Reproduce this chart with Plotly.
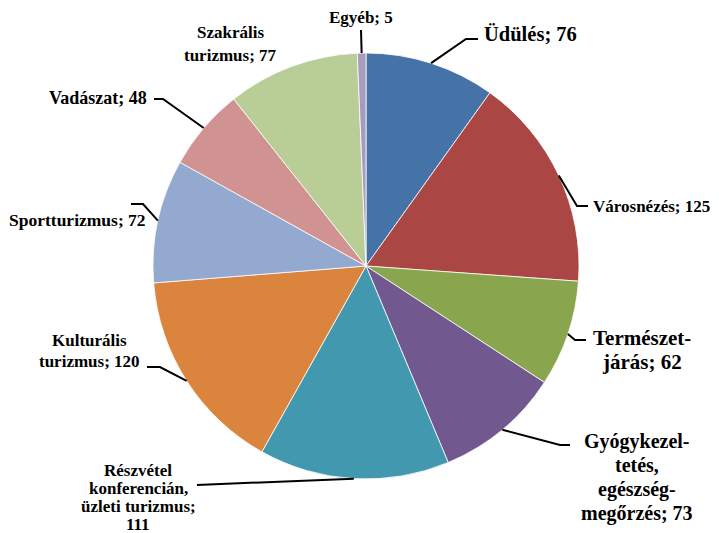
import math
import plotly.graph_objects as go

W, H = 719, 533

labels = ['Üdülés', 'Városnézés', 'Természetjárás', 'Gyógykezeltetés, egészségmegőrzés',
          'Részvétel konferencián, üzleti turizmus', 'Kulturális turizmus', 'Sportturizmus',
          'Vadászat', 'Szakrális turizmus', 'Egyéb']
values = [76, 125, 62, 73, 111, 120, 72, 48, 77, 5]
label_texts = ['Üdülés; 76', 'Városnézés; 125', 'Természet-<br>járás; 62',
               'Gyógykezel-<br>tetés,<br>egészség-<br>megőrzés; 73',
               'Részvétel<br>konferencián,<br>üzleti turizmus;<br>111',
               'Kulturális<br>turizmus; 120', 'Sportturizmus; 72', 'Vadászat; 48',
               'Szakrális<br>turizmus; 77', 'Egyéb; 5']
colors = ['#4572A7', '#AA4643', '#89A54E', '#71588F', '#4198AF',
          '#DB843D', '#93A9CF', '#D19392', '#B9CD96', '#A99BBD']

# label placement in pixels: (x, y of first line, xanchor, font size, line spacing)
label_pos = [(482, 34, 'left', 20.5, 0), (591, 206, 'left', 17, 0), (642, 338, 'center', 21, 24),
             (637, 441, 'center', 20, 24.3), (138, 470, 'center', 17, 18.3),
             (89, 340, 'center', 17, 22), (148, 220, 'right', 17.5, 0), (149, 98, 'right', 18, 0),
             (230, 33, 'center', 17, 22), (361, 18, 'center', 17, 0)]
# leader line bends after the slice edge (pixels)
leader_pts = [[(466, 39), (478, 39)], [(577, 206), (588, 206)], [(575, 340), (586, 340)],
              [(560, 445), (570, 445)], [(197, 485)], [(160, 367), (147, 367)],
              [(143, 204), (131, 204)], [(163, 99), (154, 99)], None, [(361, 30)]]

px0, px1, py0, py1 = 153, 579, 53, 479
cx, cy, r = (px0 + px1) / 2, (py0 + py1) / 2, (px1 - px0) / 2


def px(x):
    return x / W


def py(y):
    return 1 - y / H


fig = go.Figure(go.Pie(
    labels=labels, values=values, sort=False, direction='clockwise',
    marker=dict(colors=colors, line=dict(color='white', width=0.8)),
    textinfo='none', hoverinfo='label+value',
    domain=dict(x=[px(px0), px(px1)], y=[py(py1), py(py0)]),
))

total = sum(values)
cum = 0
shapes, annotations = [], []
for v, txt, lp, pts in zip(values, label_texts, label_pos, leader_pts):
    th = 2 * math.pi * (cum + v / 2) / total
    cum += v
    ex, ey = cx + r * math.sin(th), cy - r * math.cos(th)
    if pts:
        path = f'M {px(ex)},{py(ey)}' + ''.join(f' L {px(a)},{py(b)}' for a, b in pts)
        shapes.append(dict(type='path', path=path, xref='paper', yref='paper',
                           line=dict(color='black', width=2)))
    x, y, anc, size, gap = lp
    # one annotation per text line so the line spacing can follow the original
    for i, line in enumerate(txt.split('<br>')):
        annotations.append(dict(x=px(x), y=py(y + i * gap), xref='paper', yref='paper',
                                text=f'<b>{line}</b>', showarrow=False, xanchor=anc,
                                yanchor='middle', align='center',
                                font=dict(family='Liberation Serif', size=size, color='black')))

fig.update_layout(
    width=W, height=H, margin=dict(l=0, r=0, t=0, b=0),
    showlegend=False, paper_bgcolor='white',
    shapes=shapes, annotations=annotations,
)

fig.write_html("out.html", config={'displayModeBar': False},
               post_script="document.body.style.margin='0px';")
